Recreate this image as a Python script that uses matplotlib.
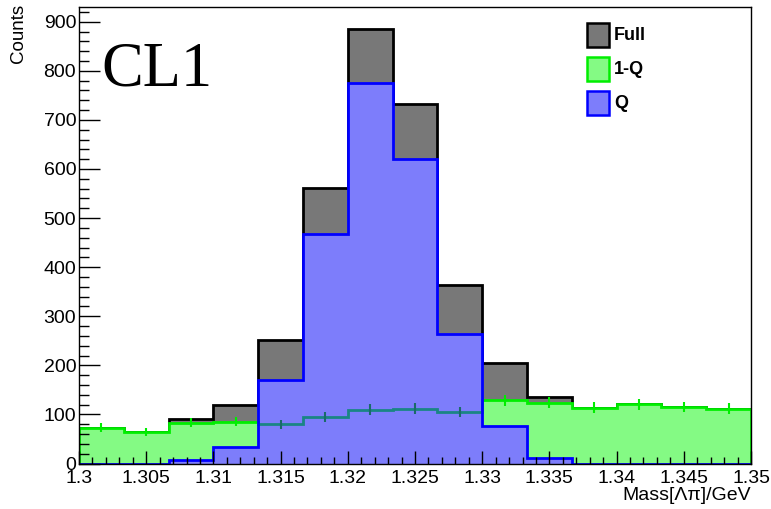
import numpy as np
import matplotlib
matplotlib.use("Agg")
import matplotlib.pyplot as plt
from matplotlib.patches import Rectangle
from matplotlib.ticker import MultipleLocator, FuncFormatter

# ---- data ----
x_lo, x_hi, n_bins = 1.3, 1.35, 15
full = [73, 65, 90, 119, 251, 561, 886, 733, 364, 205, 136, 114, 121, 115, 112]
q_vals = [0, 0, 7, 34, 171, 468, 776, 621, 263, 77, 12, 0, 0, 0, 0]
notq_vals = [73, 65, 83, 85, 80, 95, 110, 112, 105, 129, 124, 114, 121, 115, 112]
legend_labels = ["Full", "1-Q", "Q"]
x_label = "Mass[Λπ]/GeV"
y_label = "Counts"
tag = "CL1"

edges = np.linspace(x_lo, x_hi, n_bins + 1)
centers = 0.5 * (edges[:-1] + edges[1:])
full = np.array(full, float)
q_vals = np.array(q_vals, float)
notq_vals = np.array(notq_vals, float)
notq_err = np.sqrt(notq_vals)

plt.rcParams['font.family'] = ['Liberation Sans', 'DejaVu Sans']

W, H = 771, 509
fig = plt.figure(figsize=(W / 100, H / 100), dpi=100)
L, R, T, B = 79, 751, 7, 463.5
ax = fig.add_axes([L / W, 1 - B / H, (R - L) / W, (B - T) / H])

gray_fc = '#787878'
green_fc = '#84fa84'
blue_fc = '#7d7dfb'
lw = 2.0

# Full
ax.stairs(full, edges, fill=True, facecolor=gray_fc, edgecolor='none', zorder=1)
ax.stairs(full, edges, fill=False, color='black', lw=lw, zorder=1.5)
# 1-Q
ax.stairs(notq_vals, edges, fill=True, facecolor=green_fc, edgecolor='none', zorder=2)
ax.stairs(notq_vals, edges, fill=False, color='#00ee00', lw=lw, zorder=3)
ax.vlines(centers, notq_vals - notq_err, notq_vals + notq_err, color='#00ee00', lw=1.5, zorder=3)
# Q
blue_patch = ax.stairs(q_vals, edges, fill=True, facecolor=blue_fc, edgecolor='none', zorder=4)
teal = ax.stairs(notq_vals, edges, fill=False, color='#1a8585', lw=lw, zorder=5)
teal.set_clip_path(blue_patch)
teal_err = ax.vlines(centers, notq_vals - notq_err, notq_vals + notq_err, color='#1a6a6a', lw=1.5, zorder=5)
teal_err.set_clip_path(blue_patch)
ax.stairs(q_vals, edges, fill=True, facecolor='none', edgecolor='#0000ff', lw=lw, zorder=6)

ax.set_xlim(x_lo, x_hi)
ax.set_ylim(0, 930)

ax.xaxis.set_major_locator(MultipleLocator(0.005))
ax.xaxis.set_minor_locator(MultipleLocator(0.001))
ax.yaxis.set_major_locator(MultipleLocator(100))
ax.yaxis.set_minor_locator(MultipleLocator(20))
ax.xaxis.set_major_formatter(FuncFormatter(lambda v, p: ('%.3f' % v).rstrip('0').rstrip('.')))

ax.tick_params(axis='x', which='major', direction='in', length=9.5, width=1, labelsize=14, pad=4.5)
ax.tick_params(axis='x', which='minor', direction='in', length=4.8, width=1)
ax.tick_params(axis='y', which='major', direction='in', length=15, width=1, labelsize=14, pad=2)
ax.tick_params(axis='y', which='minor', direction='in', length=7.5, width=1)
ax.xaxis.set_zorder(10)
ax.yaxis.set_zorder(10)
for s in ax.spines.values():
    s.set_linewidth(1)
    s.set_zorder(10)

fig.text(18 / W, 1 - 4 / H, y_label, rotation=90, ha='center', va='top', fontsize=13.5)
fig.text(751 / W, 1 - 496 / H, x_label, ha='right', va='center', fontsize=14)
fig.text(101 / W, 1 - 86 / H, tag, ha='left', va='baseline', fontsize=45,
         family=['Liberation Serif', 'DejaVu Serif'])

# legend
boxes = [(587, 23, 609, 47), (587, 57, 609, 81), (587, 91, 609, 115)]
fcs = [gray_fc, green_fc, blue_fc]
ecs = ['black', '#00ee00', '#0000ff']
for (x0, y0, x1, y1), fc, ec, lab in zip(boxes, fcs, ecs, legend_labels):
    fig.add_artist(Rectangle((x0 / W, 1 - y1 / H), (x1 - x0) / W, (y1 - y0) / H,
                             transform=fig.transFigure, facecolor=fc, edgecolor=ec, lw=1.8))
    fig.text(614 / W, 1 - (0.5 * (y0 + y1) + 1) / H, lab, ha='left', va='center',
             fontsize=13, fontweight='bold')

fig.savefig('out.png', dpi=100)
